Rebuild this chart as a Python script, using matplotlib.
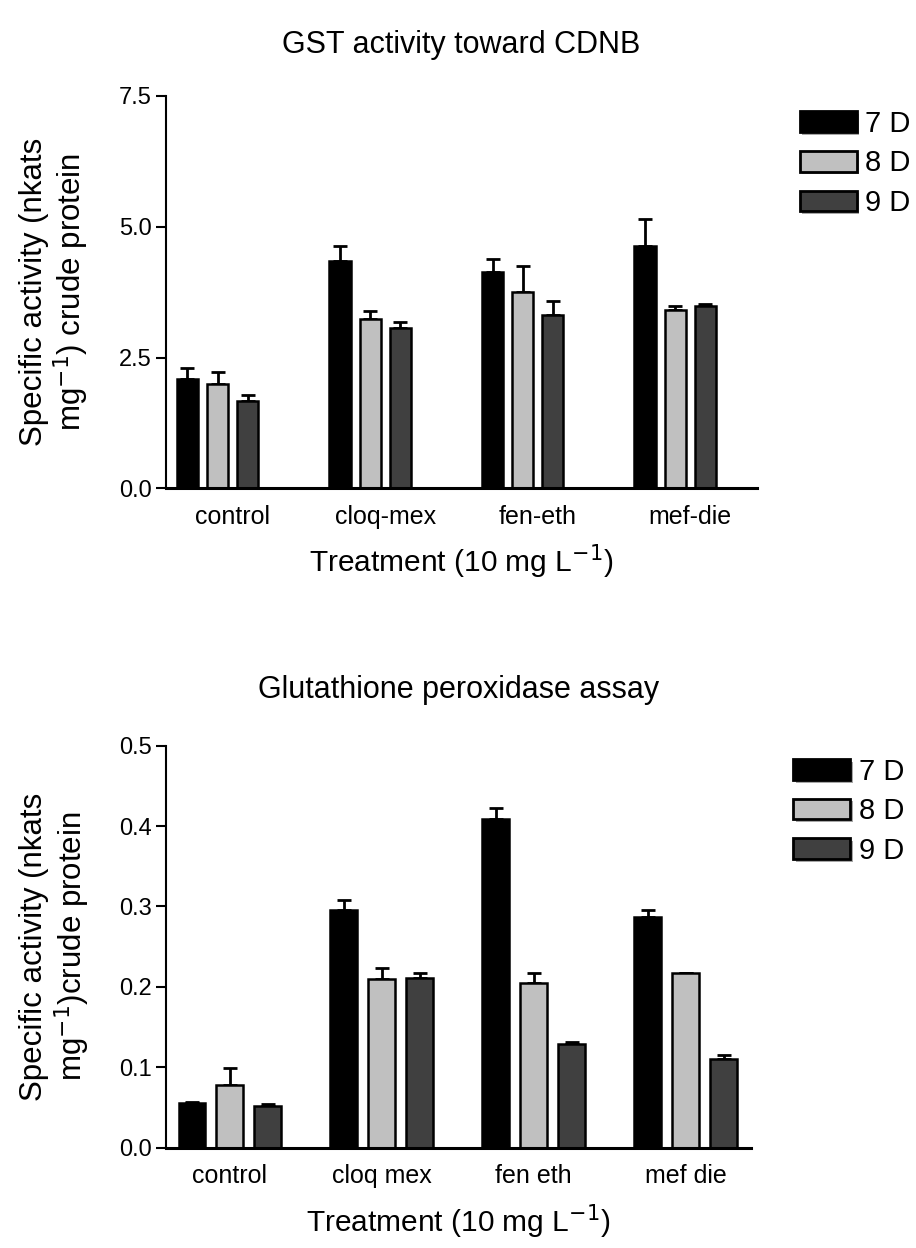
import matplotlib
matplotlib.use("Agg")
import matplotlib.pyplot as plt
import matplotlib.patheffects as pe
import numpy as np
from matplotlib.patches import Patch

plt.rcParams['font.family'] = ['Liberation Sans', 'DejaVu Sans']

days = ["7 D", "8 D", "9 D"]
colors = ["#000000", "#c0c0c0", "#404040"]

# Top panel: GST activity toward CDNB
top_cats = ["control", "cloq-mex", "fen-eth", "mef-die"]
top_7d = [2.09, 4.35, 4.13, 4.64]
top_7d_err = [0.21, 0.29, 0.26, 0.51]
top_8d = [2.00, 3.23, 3.76, 3.41]
top_8d_err = [0.23, 0.16, 0.49, 0.08]
top_9d = [1.67, 3.07, 3.32, 3.49]
top_9d_err = [0.12, 0.11, 0.26, 0.04]
top_yticks = [0.0, 2.5, 5.0, 7.5]

# Bottom panel: Glutathione peroxidase assay
bot_cats = ["control", "cloq mex", "fen eth", "mef die"]
bot_7d = [0.056, 0.295, 0.409, 0.287]
bot_7d_err = [0.001, 0.013, 0.013, 0.009]
bot_8d = [0.078, 0.210, 0.205, 0.217]
bot_8d_err = [0.021, 0.013, 0.012, 0.0005]
bot_9d = [0.052, 0.211, 0.129, 0.110]
bot_9d_err = [0.002, 0.006, 0.002, 0.005]
bot_yticks = [0.0, 0.1, 0.2, 0.3, 0.4, 0.5]

fig = plt.figure(figsize=(9.16, 12.48), dpi=100)

def panel(rect, cats, series, errs, yticks, ylim, xlim, step, width, title,
          title_pad, ylabel, label_shift, leg_anchor):
    ax = fig.add_axes(rect)
    x = np.arange(len(cats))
    for i, (vals, e, c) in enumerate(zip(series, errs, colors)):
        xs = x + (i - 1) * step
        ax.bar(xs, vals, width=width, color=c, edgecolor="black", linewidth=1.8,
               label=days[i], zorder=2)
        ax.errorbar(xs, vals, yerr=[np.zeros(len(vals)), e], fmt="none",
                    ecolor="black", elinewidth=2, capsize=5, capthick=2, zorder=1)
    ax.set_xlim(*xlim)
    ax.set_ylim(*ylim)
    ax.set_yticks(yticks)
    ax.set_yticklabels(["{:.1f}".format(t) for t in yticks], fontsize=17)
    ax.set_xticks(x + label_shift)
    ax.set_xticklabels(cats, fontsize=18)
    ax.tick_params(axis="x", length=0, pad=12)
    ax.tick_params(axis="y", length=7, width=1.5, pad=3)
    for s in ["top", "right"]:
        ax.spines[s].set_visible(False)
    ax.spines["left"].set_linewidth(1.5)
    ax.spines["bottom"].set_linewidth(2.2)
    ax.set_xlabel("Treatment (10 mg L$^{-1}$)", fontsize=21.5, labelpad=10)
    ax.set_ylabel(ylabel, fontsize=22.5, labelpad=20, linespacing=1.1)
    ax.set_title(title, fontsize=22, pad=title_pad)
    handles = [Patch(facecolor=c, edgecolor="black", linewidth=2) for c in colors]
    leg = fig.legend(handles, days, loc="upper left", bbox_to_anchor=leg_anchor,
                     frameon=False, fontsize=21, handlelength=1.95, handleheight=0.72,
                     handletextpad=0.3, labelspacing=0.4, borderpad=0, borderaxespad=0)
    for p in leg.get_patches():
        p.set_path_effects([pe.SimplePatchShadow(offset=(2, -2), shadow_rgbFace="0.65",
                                                 alpha=1.0), pe.Normal()])
    return ax

panel([0.1812, 0.6087, 0.645, 0.3144], top_cats, [top_7d, top_8d, top_9d],
      [top_7d_err, top_8d_err, top_9d_err], top_yticks, (0, 7.5), (-0.338, 3.536),
      0.197, 0.138, "GST activity toward CDNB", 31,
      "Specific activity (nkats\nmg$^{-1}$) crude protein", 0.1,
      (0.873, 0.912))

panel([0.1812, 0.0804, 0.6386, 0.3221], bot_cats, [bot_7d, bot_8d, bot_9d],
      [bot_7d_err, bot_8d_err, bot_9d_err], bot_yticks, (0, 0.5), (-0.42, 3.43),
      0.25, 0.175, "Glutathione peroxidase assay", 34,
      "Specific activity (nkats\nmg$^{-1}$)crude protein", 0.0,
      (0.866, 0.393))

fig.savefig("out.png", dpi=100)
